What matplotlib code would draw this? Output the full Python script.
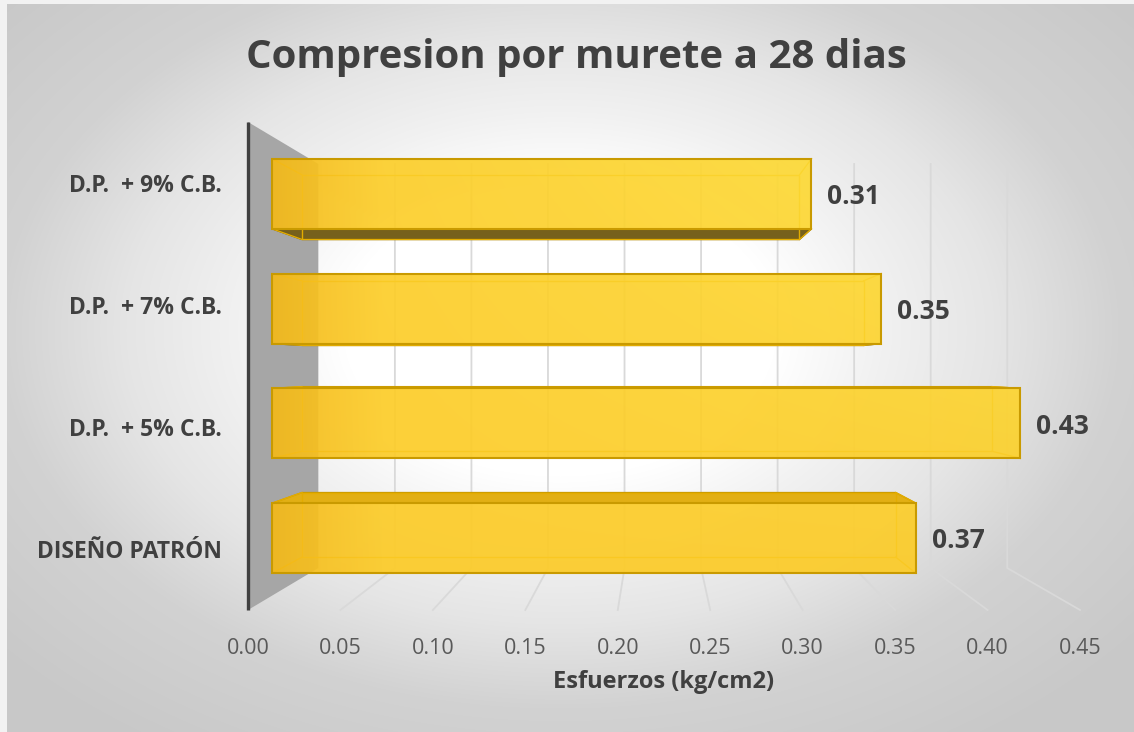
import numpy as np
import matplotlib.pyplot as plt
from matplotlib.patches import Polygon
from matplotlib.colors import to_rgb

# chart data
categories = ['DISEÑO PATRÓN', 'D.P.  + 5% C.B.', 'D.P.  + 7% C.B.', 'D.P.  + 9% C.B.']
values = [0.37, 0.43, 0.35, 0.31]
xticks = [0.00, 0.05, 0.10, 0.15, 0.20, 0.25, 0.30, 0.35, 0.40, 0.45]
xtick_labels = ['0.00', '0.05', '0.10', '0.15', '0.20', '0.25', '0.30', '0.35', '0.40', '0.45']
title = 'Compresion por murete a 28 dias'
xlabel = 'Esfuerzos (kg/cm2)'

W, H = 1134, 732
TEXT = '#404040'
plt.rcParams['font.family'] = ['Open Sans', 'DejaVu Sans']

fig = plt.figure(figsize=(W / 100, H / 100), dpi=100, facecolor='#F2F2F2')

# radial grey background
bg = fig.add_axes([7 / W, 0, 1 - 7 / W, 1 - 4 / H])
yy, xx = np.mgrid[4:H, 7:W]
d = np.sqrt(((xx - 560) / 620.0) ** 2 + ((yy - 330) / 420.0) ** 2)
g = np.interp(d, [0, .35, .52, .7, .9, 1.2], [255, 255, 241, 229, 210, 200]) / 255
bg.imshow(np.dstack([g, g, g]), aspect='auto', interpolation='bilinear')
bg.axis('off')

# front plane of the 3d box = the axes
ax = fig.add_axes([248 / W, (H - 610) / H, 832 / W, 488 / H])
ax.patch.set_alpha(0)
for s in ax.spines.values():
    s.set_visible(False)

XMAX, YLO, YHI = 0.45, -0.5, 3.5
VX, VY = 0.2212, 1.5          # vanishing point (data units)
F_BACK, F_BAR1, F_BAR2 = 0.828, 0.941, 0.868


def proj(x, y, f):
    return (VX + f * (x - VX), VY + f * (y - VY))


def to_px(x, y):
    return 248 + x / XMAX * 832, 610 - (y - YLO) / (YHI - YLO) * 488


# gridlines on back wall and floor
for t in xticks[1:]:
    xb0, yb0 = proj(t, YLO, F_BACK)
    xb1, yb1 = proj(t, YHI, F_BACK)
    xf, yf = proj(t, YLO, 1.0)
    ax.plot([xb1, xb0, xf], [yb1, yb0, yf], color='#D9D9D9', lw=1.3,
            zorder=1, clip_on=False)

# side wall
wall = [proj(0, YHI, 1.0), proj(0, YHI, F_BACK), proj(0, YLO, F_BACK), proj(0, YLO, 1.0)]
ax.add_patch(Polygon(wall, closed=True, facecolor='#A6A6A6', edgecolor='none',
                     zorder=2, clip_on=False))
ax.plot([0, 0], [YLO, YHI], color='#404040', lw=2.4, zorder=7,
        clip_on=False, solid_capstyle='butt')

c_left = np.array(to_rgb('#F4B918'))
c_mid = np.array(to_rgb('#FCCB26'))
c_hi = np.array(to_rgb('#FFE440'))

HB = 0.305
for i, v in enumerate(values):
    lo, hi = i - HB, i + HB
    corners = [(0, lo), (v, lo), (v, hi), (0, hi)]
    fr = [proj(x, y, F_BAR1) for x, y in corners]
    bk = [proj(x, y, F_BAR2) for x, y in corners]

    if lo > VY:
        ax.add_patch(Polygon([fr[0], fr[1], bk[1], bk[0]], closed=True,
                             facecolor='#76601C', edgecolor='#5E4C12', lw=1, zorder=3))
    if hi < VY:
        ax.add_patch(Polygon([fr[3], fr[2], bk[2], bk[3]], closed=True,
                             facecolor='#E2AF14', edgecolor='#C99A00', lw=1, zorder=3))

    ax.add_patch(Polygon(bk, closed=True, fill=False, edgecolor='#E3AC00',
                         lw=1.0, zorder=3))
    for a, b in zip(fr, bk):
        ax.plot([a[0], b[0]], [a[1], b[1]], color='#E3AC00', lw=1.0, zorder=3)

    # front face with gradient
    x0, y0 = fr[0]
    x1, y1 = fr[2]
    gx = np.linspace(x0, x1, 300)
    gy = np.linspace(y0, y1, 30)
    GX, GY = np.meshgrid(gx, gy)
    PX, PY = to_px(GX, GY)
    s = np.clip((PX - 272) / 110.0, 0, 1)[..., None]
    p = (np.clip((PX - 272) / 800.0, 0, 1) * np.clip(1 - (PY - 150) / 430.0, 0, 1) * 0.9)[..., None]
    col = c_left * (1 - s) + c_mid * s
    col = col * (1 - p) + c_hi * p
    ax.imshow(col, extent=[x0, x1, y0, y1], origin='lower', aspect='auto',
              alpha=0.92, zorder=4, interpolation='bilinear')
    ax.add_patch(Polygon(fr, closed=True, fill=False, edgecolor='#C99A00',
                         lw=1.5, zorder=5))

    xr, yc = proj(v, i, F_BAR1)
    ax.annotate(f'{v:.2f}', (xr, yc), xytext=(11.5, -2), textcoords='offset points',
                ha='left', va='center', fontsize=19, fontweight='bold', color=TEXT)

ax.set_xlim(0, XMAX)
ax.set_ylim(YLO, YHI)
ax.set_xticks(xticks)
ax.set_xticklabels(xtick_labels, fontsize=15.5, color='#595959')
ax.tick_params(axis='x', length=0, pad=20)
ax.set_yticks(range(len(categories)))
ax.set_yticklabels(categories, fontsize=16.5, fontweight='bold', color=TEXT)
ax.tick_params(axis='y', length=0, pad=19)
ax.set_xlabel(xlabel, fontsize=17, fontweight='bold', color=TEXT, labelpad=8)

fig.text(576 / W, 1 - 68 / H, title, ha='center', va='baseline', fontsize=29,
         fontweight='bold', color=TEXT)

fig.savefig('out.png', dpi=100)
